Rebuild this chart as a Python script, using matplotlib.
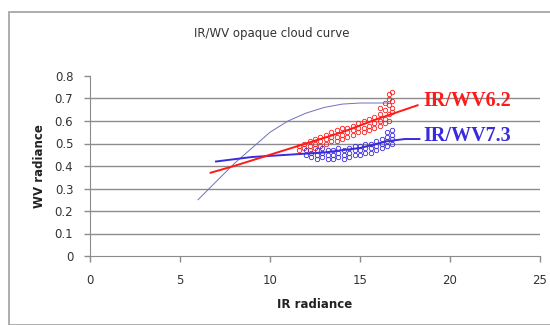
import numpy as np
import matplotlib
matplotlib.use("Agg")
import matplotlib.pyplot as plt
from matplotlib.patches import Rectangle

# opaque cloud curve (thin blue-gray line)
curve_x = [6.0, 7.0, 8.0, 9.0, 10.0, 11.0, 12.0, 13.0, 14.0, 15.0, 16.0, 16.6]
curve_y = [0.25, 0.33, 0.41, 0.48, 0.55, 0.60, 0.635, 0.66, 0.675, 0.68, 0.68, 0.68]

# IR/WV6.2 scatter
red_x = [11.6, 11.6, 11.9, 11.9, 12.2, 12.2, 12.2, 12.5, 12.5, 12.5,
         12.8, 12.8, 12.8, 13.1, 13.1, 13.1, 13.4, 13.4, 13.4, 13.7, 13.7, 13.7,
         14.0, 14.0, 14.0, 14.3, 14.3, 14.3, 14.6, 14.6, 14.6, 14.9, 14.9, 14.9,
         15.2, 15.2, 15.2, 15.5, 15.5, 15.5, 15.8, 15.8, 15.8,
         16.1, 16.1, 16.1, 16.1, 16.4, 16.4, 16.4, 16.4,
         16.6, 16.6, 16.6, 16.6, 16.6, 16.8, 16.8, 16.8, 16.8]
red_y = [0.47, 0.49, 0.48, 0.50, 0.49, 0.51, 0.47, 0.50, 0.52, 0.48,
         0.51, 0.53, 0.49, 0.52, 0.54, 0.50, 0.53, 0.55, 0.51, 0.53, 0.56, 0.51,
         0.54, 0.57, 0.52, 0.55, 0.57, 0.53, 0.56, 0.58, 0.54, 0.57, 0.59, 0.55,
         0.57, 0.60, 0.55, 0.58, 0.61, 0.56, 0.59, 0.62, 0.57,
         0.60, 0.63, 0.58, 0.66, 0.61, 0.65, 0.68, 0.59,
         0.63, 0.67, 0.70, 0.72, 0.60, 0.64, 0.69, 0.73, 0.66]

# IR/WV7.3 scatter
blue_x = [12.0, 12.0, 12.3, 12.3, 12.6, 12.6, 12.6, 12.9, 12.9, 12.9,
          13.2, 13.2, 13.2, 13.5, 13.5, 13.5, 13.8, 13.8, 13.8, 14.1, 14.1, 14.1,
          14.4, 14.4, 14.4, 14.7, 14.7, 14.7, 15.0, 15.0, 15.0, 15.3, 15.3, 15.3,
          15.6, 15.6, 15.6, 15.9, 15.9, 15.9, 16.2, 16.2, 16.2,
          16.5, 16.5, 16.5, 16.5, 16.8, 16.8, 16.8, 16.8]
blue_y = [0.45, 0.47, 0.44, 0.46, 0.45, 0.47, 0.43, 0.44, 0.46, 0.48,
          0.43, 0.45, 0.47, 0.43, 0.45, 0.47, 0.44, 0.46, 0.48, 0.43, 0.45, 0.47,
          0.44, 0.46, 0.48, 0.45, 0.47, 0.49, 0.45, 0.47, 0.49, 0.46, 0.48, 0.50,
          0.46, 0.48, 0.50, 0.47, 0.49, 0.51, 0.48, 0.50, 0.52,
          0.49, 0.51, 0.53, 0.55, 0.50, 0.52, 0.54, 0.56]

# fit lines
red_fit_x = [6.7, 8.0, 10.0, 12.0, 14.0, 16.0, 18.2]
red_fit_y = [0.37, 0.40, 0.45, 0.50, 0.55, 0.61, 0.67]
blue_fit_x = [7.0, 9.0, 11.0, 13.0, 15.0, 16.5, 17.5, 18.3]
blue_fit_y = [0.42, 0.44, 0.45, 0.46, 0.48, 0.51, 0.52, 0.52]

red = "#ff1a1a"
blue = "#3a2bdc"

fig = plt.figure(figsize=(5.5, 3.25), dpi=100)
fig.patches.append(Rectangle((9/550, 0), 1, 1 - 12/325, transform=fig.transFigure,
                             fill=False, edgecolor="#a0a0a0", lw=1.2))
ax = fig.add_axes([90/550, 69/325, 450/550, 180/325])

for yy in np.arange(0.1, 0.75, 0.1):
    ax.axhline(yy, color="#8c8c8c", lw=1.0, zorder=0)

ax.plot(curve_x, curve_y, color="#7070c0", lw=0.7, zorder=2)
ax.plot(red_x, red_y, "o", mfc="none", mec=red, ms=3.2, mew=0.6, zorder=3)
ax.plot(blue_x, blue_y, "o", mfc="none", mec=blue, ms=3.2, mew=0.6, zorder=3)
ax.plot(blue_fit_x, blue_fit_y, color=blue, lw=1.4, zorder=4)
ax.plot(red_fit_x, red_fit_y, color=red, lw=1.4, zorder=4)

ax.text(18.5, 0.69, "IR/WV6.2", color=red, fontsize=14.5, family="Liberation Serif",
        fontweight="bold", va="center", ha="left")
ax.text(18.5, 0.535, "IR/WV7.3", color=blue, fontsize=14.5, family="Liberation Serif",
        fontweight="bold", va="center", ha="left")

ax.set_xlim(0, 25)
ax.set_ylim(0, 0.8)
ax.set_xticks([0, 5, 10, 15, 20, 25])
ax.set_yticks(np.arange(0, 0.81, 0.1))
ax.set_yticklabels(["0", "0.1", "0.2", "0.3", "0.4", "0.5", "0.6", "0.7", "0.8"])
for s in ["top", "right"]:
    ax.spines[s].set_visible(False)
for s in ["left", "bottom"]:
    ax.spines[s].set_color("#8c8c8c")
ax.tick_params(colors="#8c8c8c", labelcolor="#333333", labelsize=8.5, length=4, width=1)
ax.tick_params(axis="x", pad=9)
ax.tick_params(axis="y", pad=8)

ax.set_xlabel("IR radiance", fontsize=8.5, fontweight="bold", color="#222222", labelpad=8)
ax.set_ylabel("WV radiance", fontsize=8.5, fontweight="bold", color="#222222", labelpad=6)
fig.text(272/550, 1 - 34/325, "IR/WV opaque cloud curve", fontsize=8.5, ha="center",
         va="center", color="#333333")

fig.savefig("out.png", dpi=100)
